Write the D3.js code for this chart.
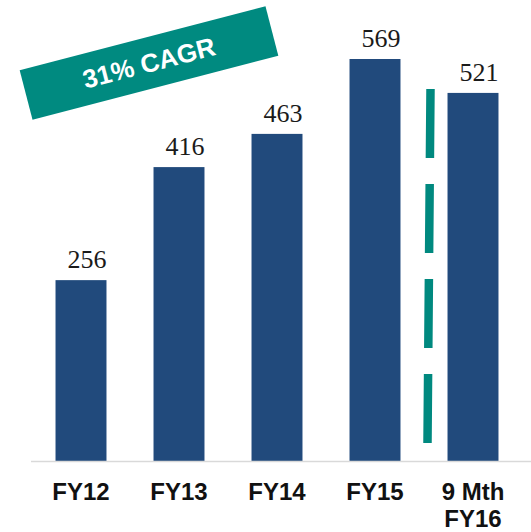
<!DOCTYPE html>
<html>
<head>
<meta charset="utf-8">
<script src="https://cdn.jsdelivr.net/npm/d3@7"></script>
<style>
  html, body { margin: 0; padding: 0; background: #fff; }
  svg { display: block; }
</style>
</head>
<body>
<svg id="chart"></svg>
<script>
// chart data
const categories = ["FY12", "FY13", "FY14", "FY15", "9 Mth FY16"];
const tickLines = [["FY12"], ["FY13"], ["FY14"], ["FY15"], ["9 Mth", "FY16"]];
const revenue = [256, 416, 463, 569, 521];
const cagrLabel = "31% CAGR";

const width = 531, height = 532;
const baseline = 461;

const svg = d3.select("#chart")
    .attr("width", width)
    .attr("height", height);

// scales
const x = d3.scaleBand()
    .domain(categories)
    .range([32, 522])
    .paddingInner(0.48)
    .paddingOuter(0.24);

const y = d3.scaleLinear()
    .domain([0, 569])
    .range([baseline, 59]);

// bars
svg.selectAll("rect.bar")
    .data(revenue)
    .enter()
    .append("rect")
    .attr("class", "bar")
    .attr("x", (d, i) => x(categories[i]))
    .attr("y", d => y(d))
    .attr("width", x.bandwidth())
    .attr("height", d => baseline - y(d))
    .attr("fill", "#214a7c");

// value labels
svg.selectAll("text.val")
    .data(revenue)
    .enter()
    .append("text")
    .attr("class", "val")
    .attr("x", (d, i) => x(categories[i]) + x.bandwidth() / 2 + 6)
    .attr("y", d => y(d) - 12)
    .attr("text-anchor", "middle")
    .attr("font-family", "'Liberation Serif', 'Times New Roman', serif")
    .attr("font-size", 26)
    .attr("fill", "#1a1a1a")
    .text(d => d);

// baseline axis line
svg.append("line")
    .attr("x1", 31).attr("x2", width)
    .attr("y1", baseline + 0.5).attr("y2", baseline + 0.5)
    .attr("stroke", "#d9d9d9")
    .attr("stroke-width", 1.5);

// category labels
const cat = svg.selectAll("text.cat")
    .data(tickLines)
    .enter()
    .append("text")
    .attr("class", "cat")
    .attr("text-anchor", "middle")
    .attr("font-family", "'Liberation Sans', Arial, sans-serif")
    .attr("font-weight", "bold")
    .attr("font-size", 24)
    .attr("fill", "#111");

cat.each(function(lines, i) {
    const cx = x(categories[i]) + x.bandwidth() / 2;
    d3.select(this).selectAll("tspan")
        .data(lines)
        .enter()
        .append("tspan")
        .attr("x", cx)
        .attr("y", (l, j) => 500 + j * 27)
        .text(l => l);
});

// dashed separator before the partial year
const sepX = x(categories[4]) - (x.step() - x.bandwidth()) / 2 + 5;
svg.append("line")
    .attr("x1", sepX + 1.5).attr("y1", 89)
    .attr("x2", sepX - 1.5).attr("y2", 443)
    .attr("stroke", "#00897f")
    .attr("stroke-width", 8.5)
    .attr("stroke-dasharray", "69,26");

// CAGR banner
const banner = svg.append("g")
    .attr("transform", "translate(149,63) rotate(-14.6)");

banner.append("rect")
    .attr("x", -127).attr("y", -25.5)
    .attr("width", 254).attr("height", 51)
    .attr("fill", "#008a80");

banner.append("text")
    .attr("x", 0).attr("y", 9)
    .attr("text-anchor", "middle")
    .attr("font-family", "'Liberation Sans', Arial, sans-serif")
    .attr("font-weight", "bold")
    .attr("font-size", 26)
    .attr("fill", "#fff")
    .text(cagrLabel);
</script>
</body>
</html>
